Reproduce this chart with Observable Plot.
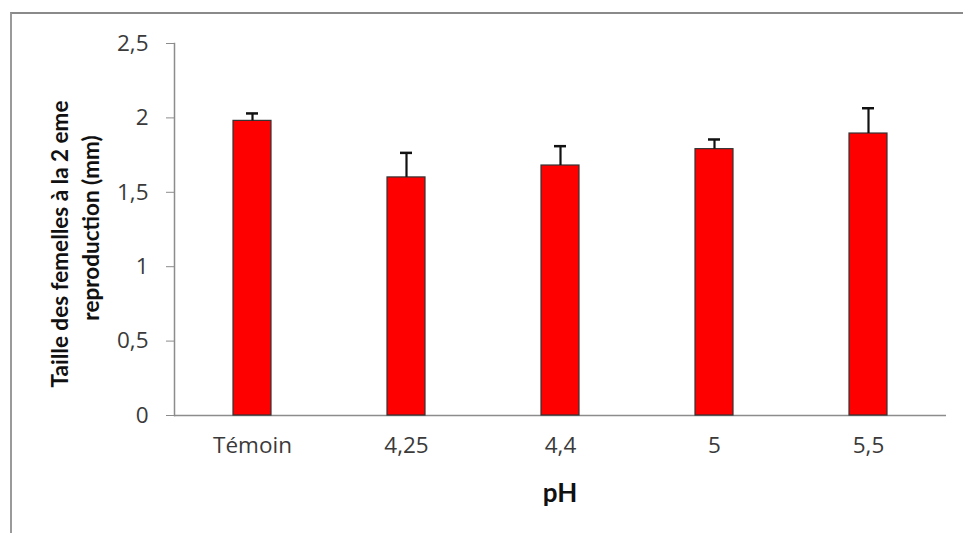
<!DOCTYPE html>
<html>
<head>
<meta charset="utf-8">
<script src="https://cdn.jsdelivr.net/npm/d3@7"></script>
<script src="https://cdn.jsdelivr.net/npm/@observablehq/plot@0.6"></script>
<style>
  html, body { margin: 0; padding: 0; background: #ffffff; }
  #wrap { position: relative; width: 963px; height: 533px; overflow: hidden; font-family: Lato, "Open Sans", sans-serif; }
  #border { position: absolute; left: 10px; top: 12px; right: -5px; bottom: -5px; border-top: 2px solid #8a8a8a; border-left: 2px solid #9a9a9a; }
  .ylab { position: absolute; white-space: nowrap; font-weight: bold; font-size: 22.5px; color: #111; transform: translate(-50%, -50%) rotate(-90deg); line-height: 1; }
  #xlab { position: absolute; left: 560px; top: 492px; transform: translate(-50%, -50%); font-weight: bold; font-size: 26px; color: #111; line-height: 1; }
  #chart { position: absolute; left: 0; top: 0; }
</style>
</head>
<body>
<div id="wrap">
  <div id="border"></div>
  <div id="chart"></div>
  <div class="ylab" id="yl1" style="left:60px; top:244px;">Taille des femelles à la 2 eme</div>
  <div class="ylab" id="yl2" style="left:91px; top:228px;">reproduction (mm)</div>
  <div id="xlab">pH</div>
</div>
<script>
const categories = ["Témoin", "4,25", "4,4", "5", "5,5"];
const means = [1.98, 1.60, 1.68, 1.79, 1.895];
const errors = [0.05, 0.165, 0.13, 0.065, 0.17];
const yTicks = [0, 0.5, 1, 1.5, 2, 2.5];

const data = categories.map((c, i) => ({cat: c, mean: means[i], hi: means[i] + errors[i]}));
const fmt = d => String(d).replace(".", ",");

const chart = Plot.plot({
  width: 963,
  height: 533,
  marginLeft: 174,
  marginRight: 17,
  marginTop: 43,
  marginBottom: 118,
  style: {fontFamily: "'Open Sans', sans-serif", fontSize: "22.5px", color: "#3a3a3a", background: "transparent"},
  x: {domain: categories, paddingInner: 0.754, paddingOuter: 0.377, label: null},
  y: {domain: [0, 2.5], ticks: yTicks, tickFormat: fmt, label: null},
  marks: [
    Plot.frame({anchor: "left", stroke: "#8c8c8c", strokeWidth: 1.5}),
    Plot.ruleY([0], {stroke: "#8c8c8c", strokeWidth: 1.5}),
    Plot.axisY({ticks: yTicks, tickFormat: fmt, tickSize: 8, tickPadding: 18, stroke: "#8c8c8c", label: null}),
    Plot.axisX({tickSize: 0, tickPadding: 22, label: null}),
    Plot.barY(data, {x: "cat", y: "mean", fill: "#ff0000", stroke: "#333333", strokeWidth: 1.2}),
    Plot.ruleX(data, {x: "cat", y1: "mean", y2: "hi", stroke: "#111", strokeWidth: 2.2}),
    Plot.tickY(data, {x: "cat", y: "hi", stroke: "#111", strokeWidth: 2.5, insetLeft: 13, insetRight: 13})
  ]
});
document.getElementById("chart").appendChild(chart);
</script>
</body>
</html>
